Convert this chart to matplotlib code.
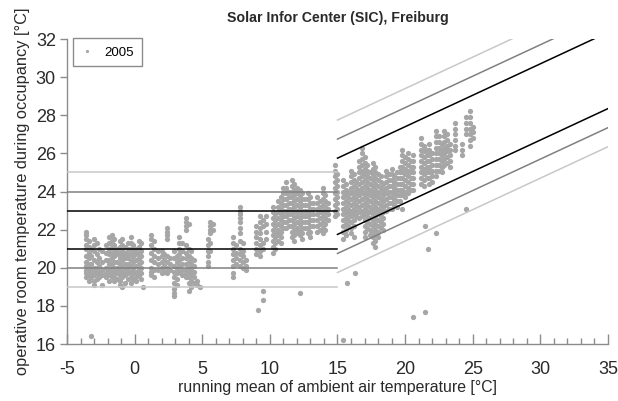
import numpy as np
import matplotlib.pyplot as plt

plt.rcParams['font.family'] = ['Liberation Sans', 'DejaVu Sans']
plt.rcParams['axes.unicode_minus'] = False

# running mean of ambient temperature per day, and the hourly room temps of that day
day_x = [
    -3.6, -3.4, -3.2, -3.0, -2.8, -2.6, -2.4, -2.1, -1.9, -1.7, -1.5, -1.3,
    -1.1, -0.9, -0.7, -0.5, -0.3, -0.1, 0.1, 0.3, 0.5, 0.6, 1.2, 1.4, 1.7,
    2.0, 2.2, 2.4, 2.6, 2.9, 3.1, 3.3, 3.5, 3.8, 4.0, 4.2, 4.4, 4.6, 4.8,
    5.4, 5.6, 5.8, 7.3, 7.5, 7.8, 8.0, 8.2, 9.0, 9.1, 9.3, 9.5, 9.7,
    10.2, 10.4, 10.6, 10.8, 11.0, 11.2, 11.4, 11.6, 11.8, 12.0, 12.2, 12.4,
    12.6, 12.8, 13.0, 13.2, 13.5, 13.7, 13.9, 14.1, 14.3, 14.8, 15.0, 15.4,
    15.6, 15.7, 15.8, 16.0, 16.2, 16.3, 16.4, 16.6, 16.8, 17.0, 17.2, 17.4,
    17.6, 17.8, 18.0, 18.2, 18.4, 18.6, 18.8, 19.0, 19.2, 19.4, 19.6, 19.8,
    20.0, 20.2, 20.4, 20.6, 21.2, 21.4, 21.5, 21.6, 21.7, 21.8, 22.0, 22.3,
    22.5, 22.7, 22.9, 23.1, 23.3, 23.7, 24.2, 24.5, 24.8, 25.0,
]
day_temps = [
    "21.9 21.7 21.5 21.2 21.0 20.6 20.3 20.1 19.9 19.7 19.5",
    "21.4 21.1 20.8 20.5 20.2 20.0 19.8 19.6 19.3",
    "21.0 20.6 20.2 19.9 19.7 19.5 16.4",
    "21.5 21.2 20.9 20.4 20.0 19.8 19.6 19.3 19.1",
    "21.3 20.7 20.3 20.0 19.7 19.4",
    "21.0 20.5 20.1 19.8 19.5",
    "20.9 20.3 19.9 19.6 19.1",
    "21.2 20.8 20.4 20.0 19.7 19.5",
    "21.6 21.3 21.0 20.7 20.4 20.2 19.9 19.6 19.3",
    "21.7 21.4 21.1 20.8 20.5 20.2 20.0 19.7 19.5",
    "21.5 21.2 20.9 20.6 20.3 20.0 19.8 19.5 19.3",
    "21.0 20.7 20.3 20.0 19.7 19.4",
    "21.4 21.1 20.8 20.5 20.2 19.9 19.6 19.3 19.1",
    "21.5 21.2 20.9 20.6 20.4 20.1 19.8 19.5 19.0",
    "21.1 20.8 20.5 20.2 19.9 19.6 19.2",
    "21.3 21.0 20.7 20.5 20.2 20.0 19.7 19.4",
    "21.6 21.3 21.0 20.7 20.4 20.1 19.8 19.5 19.2",
    "21.2 20.9 20.6 20.3 20.0 19.7 19.4",
    "21.0 20.7 20.4 20.1 19.8 19.5 19.3",
    "21.4 21.1 20.8 20.5 20.2 19.9 19.6",
    "21.3 20.9 20.6 20.3 20.0 19.7 19.4",
    "19.0",
    "21.7 21.5 21.2 20.8 20.4 20.0 19.8 19.6",
    "21.4 21.0 20.6 20.3 19.9 19.5",
    "20.9 20.5 20.2 19.9",
    "20.9 20.6 20.3 20.0 19.7",
    "20.7 20.4 20.1 19.8",
    "22.1 21.9 21.7 21.5 20.6 20.3 20.0 19.7",
    "20.5 20.2 19.9",
    "20.9 20.5 20.1 19.8 19.5 19.2 18.9 18.7 18.5",
    "20.6 20.3 20.0 19.7 19.4 19.1",
    "21.6 21.3 21.0 20.7 20.4 20.1 19.8",
    "21.3 20.9 20.5 20.2 19.9 19.6",
    "22.6 22.4 22.2 22.0 21.2 20.8 20.5 20.2 19.9 19.7 19.5",
    "22.3 21.0 20.6 20.3 20.0 19.8 19.5 19.2 18.8",
    "20.9 20.5 20.2 19.9 19.6 19.3 19.0",
    "20.4 20.1 19.8 19.5 19.2",
    "19.3 19.1",
    "19.0",
    "21.5 21.2 20.9 20.6 20.3 20.1",
    "22.4 22.2 22.0 21.8 21.3 20.9",
    "22.3 22.0",
    "21.6 21.3 21.0 20.7 20.4 20.1 19.7 19.5",
    "21.2 20.8 20.5 20.2",
    "23.2 23.0 22.8 22.6 22.4 22.1 21.8 21.4 21.0 20.7 20.4 20.1",
    "21.3 20.9 20.6 20.3 20.0",
    "20.4 20.1 19.9",
    "22.2 21.9 21.6 21.3 21.0 20.7",
    "17.8",
    "22.7 22.4 22.1 21.8 21.5 21.2 20.9 20.6",
    "22.5 22.2 21.3 21.0 18.8 18.3",
    "22.7 22.3 21.9 21.5",
    "23.2 22.9 22.6 22.3 22.0 21.7 21.4 21.1 20.8",
    "22.8 22.5 22.2 21.9 21.6 21.3 21.0",
    "23.5 23.2 22.9 22.6 22.3 22.0 21.7 21.4",
    "23.7 23.4 23.1 22.8 22.5 22.2 21.9 21.6 21.3",
    "24.2 23.9 23.6 23.3 23.0 22.7 22.4 22.1",
    "24.5 24.2 23.9 23.6 23.3 23.0 22.7 22.4 22.1",
    "24.0 23.7 23.4 23.1 22.8 22.5 22.2",
    "24.6 24.3 24.0 23.7 23.4 23.1 22.8 22.5 22.2 21.9 21.6",
    "24.4 24.1 23.8 23.5 23.2 22.9 22.6 22.3 22.0 21.7 21.4",
    "24.2 23.9 23.6 23.3 23.0 22.7 22.4 22.1 21.8",
    "24.1 23.8 23.5 23.2 22.9 22.6 22.3 22.0 21.7 18.7",
    "23.9 23.6 23.3 23.0 22.7 22.4 22.1 21.8 21.5",
    "23.6 23.3 23.0 22.7 22.4 22.1",
    "23.9 23.6 23.3 23.0 22.7 22.4 22.1 21.8",
    "23.7 23.4 23.1 22.8 22.5 22.2 21.9 21.6",
    "23.4 23.1 22.8 22.5 22.2",
    "23.7 23.4 23.1 22.8 22.5 22.2 21.9",
    "23.5 23.2 22.9 22.6 22.3 22.0",
    "24.2 23.9 23.6 23.3 23.0 22.7 22.4 22.1 21.8",
    "23.8 23.5 23.2 22.9 22.6 22.3 22.0",
    "23.4 23.1 22.8 22.5",
    "25.4 25.1 24.8 24.5 24.2 23.9 23.6 23.3 23.0 22.7",
    "24.9 24.6 24.3 24.0 23.7 23.4 23.1 22.8",
    "24.6 24.3 24.0 23.7 23.4 23.1 22.8 22.5 22.2 21.9 21.5 16.2",
    "24.4 24.1 23.8 23.5 23.2 22.9 22.6 22.3 22.0 21.7",
    "19.2",
    "24.0 23.7 23.4 23.1 22.8 22.5 22.2",
    "25.1 24.8 24.5 24.2 23.9 23.6 23.3 23.0 22.7 22.4 22.1 21.8",
    "24.9 24.6 24.3 24.0 23.7 23.4 23.1 22.8 22.5 22.2 21.6",
    "19.7",
    "24.5 24.2 23.9 23.6 23.3 23.0 22.7",
    "25.6 25.3 25.0 24.7 24.4 24.1 23.8 23.5 23.2 22.9 22.6",
    "26.3 26.0 25.7 25.4 25.1 24.8 24.5 24.2 23.9 23.6 23.3 23.0 22.7",
    "25.8 25.5 25.2 24.9 24.6 24.3 24.0 23.7 23.4 23.1 22.8 22.5 22.2 21.9 21.6",
    "25.4 25.1 24.8 24.5 24.2 23.9 23.6 23.3 23.0 22.7 22.4 22.1",
    "25.0 24.7 24.4 24.1 23.8 23.5 23.2 22.9 22.6 22.3 22.0 21.7",
    "25.5 25.2 24.9 24.6 24.3 24.0 23.7 23.4 23.1 22.8 22.5 22.2 21.9 21.6 21.3",
    "25.3 25.0 24.7 24.4 24.1 23.8 23.5 23.2 22.9 22.6 22.3 22.0 21.7 21.4 21.1",
    "24.9 24.6 24.3 24.0 23.7 23.4 23.1 22.8 22.5 22.2 21.9 21.6",
    "24.8 24.5 24.2 23.9 23.6 23.3 23.0 22.7 22.4 22.1",
    "24.4 24.1 23.8 23.5 23.2 22.9 22.6 22.3 22.0",
    "25.1 24.8 24.5 24.2 23.9 23.6 23.3 23.0",
    "24.9 24.6 24.3 24.0 23.7 23.4 23.1",
    "25.2 24.9 24.6 24.3 24.0 23.7 23.4 23.1",
    "24.8 24.5 24.2 23.9 23.6 23.3",
    "25.0 24.7 24.4 24.1 23.8 23.5 23.2",
    "25.3 25.0 24.7 24.4 24.1 23.8 23.5",
    "26.2 25.9 25.6 25.3 25.0 24.7 24.4 24.1 23.8 23.1",
    "25.8 25.5 25.2 24.9 24.6 24.3 24.0 23.7",
    "26.0 25.7 25.4 25.1 24.8 24.5 24.2 23.9",
    "25.6 25.3 25.0 24.7 24.4 24.1",
    "25.9 25.6 25.3 25.0 24.7 24.4 24.1 17.4",
    "26.8 26.5 26.2 25.9 25.6 25.3 25.0 24.7 24.4",
    "26.4 26.1 25.8 25.5 25.2 24.9 24.6 24.3",
    "22.2 17.7",
    "26.2 25.9 25.6 25.3 25.0 24.7",
    "21.0",
    "26.5 26.2 25.9 25.6 25.3 25.0 24.7 24.4",
    "26.0 25.7 25.4 25.1 24.8 24.5",
    "27.2 26.9 26.6 26.3 26.0 25.7 25.4 25.1 24.8 21.8",
    "26.9 26.6 26.3 26.0 25.7 25.4 25.1",
    "26.5 26.2 25.9 25.6 25.3 25.0",
    "27.2 26.9 26.6 26.3 26.0 25.7 25.4",
    "27.0 26.7 26.4 26.1 25.8 25.5",
    "26.5 26.2 25.9 25.6 25.3",
    "27.6 27.3 27.0 26.7 26.4 26.2",
    "26.5 26.2 25.9",
    "27.9 27.6 27.3 27.0 23.1",
    "28.2 27.9 27.6 27.3 27.0 26.7 26.4",
    "27.4 27.1 26.8",
]

# comfort band limits (horizontal part below 15 degC, sloped part above)
flat_x = [-5, 15]
flat_levels = [25, 24, 23, 21, 20, 19]
slope_x = [15, 35]
slope = 0.33
slope_base = 18.8
slope_offsets = [4, 3, 2, -2, -3, -4]
band_colors = ['#c8c8c8', '#808080', '#000000', '#000000', '#808080', '#c8c8c8']

xs, ys = [], []
for x, temps in zip(day_x, day_temps):
    for t in temps.split():
        xs.append(x)
        ys.append(float(t))

fig = plt.figure(figsize=(6.18, 4.01), dpi=100)
ax = fig.add_axes([0.1084, 0.1421, 0.8754, 0.7606])

for lvl, off, col in zip(flat_levels, slope_offsets, band_colors):
    ax.plot(flat_x, [lvl, lvl], color=col, lw=1.1, zorder=3)
    sx = np.array(slope_x)
    ax.plot(sx, slope * sx + slope_base + off, color=col, lw=1.1, zorder=3)

ax.plot(xs, ys, 'o', color='#a6a6a6', ms=3.8, mew=0, label='2005', zorder=2)

ax.set_xlim(-5, 35)
ax.set_ylim(16, 32)
ax.set_xticks(np.arange(-5, 36, 5))
ax.set_xticks(np.arange(-5, 36, 1), minor=True)
ax.set_yticks(np.arange(16, 33, 2))

for s in ['top', 'right']:
    ax.spines[s].set_visible(False)
for s in ['left', 'bottom']:
    ax.spines[s].set_color('#8c8c8c')
    ax.spines[s].set_linewidth(1.0)

ax.tick_params(axis='x', which='major', direction='in', length=7, width=1,
               color='#8c8c8c', labelsize=13, pad=12, labelcolor='#2a2a2a')
ax.tick_params(axis='x', which='minor', direction='in', length=4, width=1,
               color='#8c8c8c')
ax.tick_params(axis='y', which='major', direction='out', length=5, width=1,
               color='#8c8c8c', labelsize=13, pad=3, labelcolor='#2a2a2a')

ax.set_xlabel('running mean of ambient air temperature [°C]', fontsize=11.4,
              color='#2a2a2a', labelpad=2)
ax.set_ylabel('operative room temperature during occupancy [°C]', fontsize=11.8,
              color='#2a2a2a', labelpad=4)
ax.set_title('Solar Infor Center (SIC), Freiburg', fontsize=10.2, fontweight='bold',
             color='#2a2a2a', pad=12)

leg = ax.legend(loc='upper left', fontsize=9.5, markerscale=0.6, handletextpad=0.8,
                borderpad=0.6, fancybox=False, framealpha=1, borderaxespad=0,
                bbox_to_anchor=(0.011, 1.002), handlelength=1.0)
leg.get_frame().set_edgecolor('#8c8c8c')
leg.get_frame().set_linewidth(1.0)

fig.savefig('out.png', dpi=100)
